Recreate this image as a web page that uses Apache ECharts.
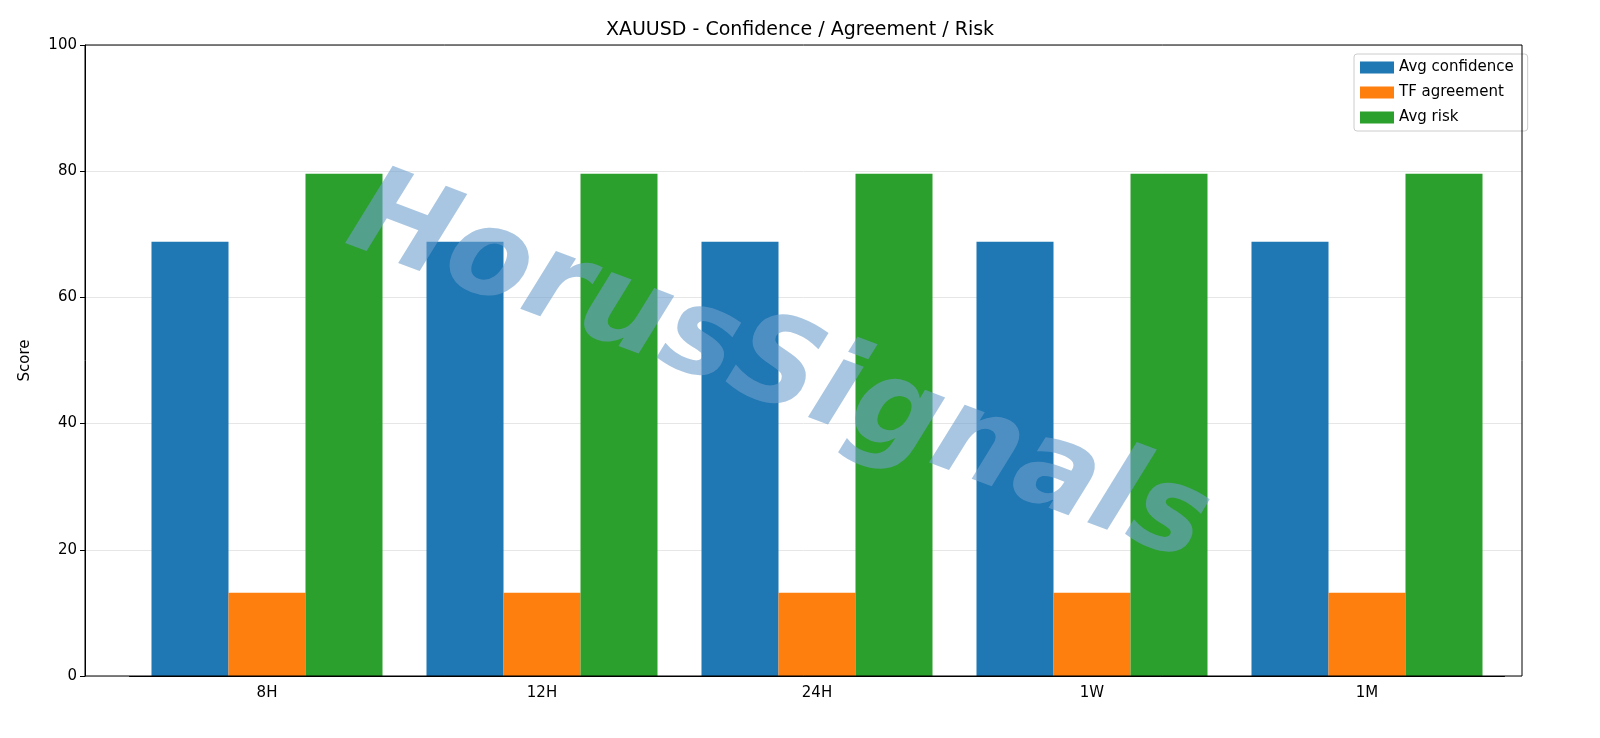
<!DOCTYPE html>
<html><head><meta charset="utf-8">
<script src="https://cdn.jsdelivr.net/npm/echarts@6/dist/echarts.min.js"></script>
<style>html,body{margin:0;padding:0;background:#fff}#c{width:1600px;height:738px}</style>
</head><body><div id="c"></div>
<script>
const categories = ['8H','12H','24H','1W','1M'];
const avgConfidence = [68.8,68.8,68.8,68.8,68.8];
const tfAgreement = [13.2,13.2,13.2,13.2,13.2];
const avgRisk = [79.6,79.6,79.6,79.6,79.6];
const yTicks = [0,20,40,60,80,100];
const chart = echarts.init(document.getElementById('c'));
const font = 'DejaVu Sans';
chart.setOption({
  animation:false,
  textStyle:{fontFamily:font},
  title:{text:'XAUUSD - Confidence / Agreement / Risk',left:'center',top:16,textStyle:{fontFamily:font,fontWeight:'normal',fontSize:19,color:'#000'}},
  grid:[{left:85,right:78,top:45,bottom:62},{left:129.5,right:95.5,top:45,bottom:62}],
  legend:{orient:'vertical',left:1354,top:54,itemWidth:34,itemHeight:12,itemGap:10,icon:'rect',
    backgroundColor:'#fff',borderColor:'#ccc',borderWidth:1,borderRadius:3,padding:[6,14,6,6],
    textStyle:{fontSize:15,color:'#000',fontFamily:font},
    data:['Avg confidence','TF agreement','Avg risk']},
  xAxis:[{type:'value',gridIndex:0,show:false,min:0,max:1},
    {type:'category',gridIndex:1,data:categories,
    axisLine:{lineStyle:{color:'#000'}},axisTick:{alignWithLabel:true,lineStyle:{color:'#000'}},
    axisLabel:{color:'#000',fontSize:15,margin:10}}],
  yAxis:[{type:'value',gridIndex:0,min:0,max:100,interval:20,name:'Score',nameLocation:'middle',nameGap:52,
    nameTextStyle:{fontSize:15,color:'#000'},
    axisLine:{show:true,lineStyle:{color:'#000'}},axisTick:{show:true,lineStyle:{color:'#000'}},
    axisLabel:{color:'#000',fontSize:15,formatter:v=>yTicks.includes(v)?String(v):''},
    splitLine:{lineStyle:{color:'#e6e6e6'}}},
    {type:'value',gridIndex:1,min:0,max:100,show:false}],
  graphic:[
    {type:'rect',shape:{x:85,y:45,width:1437,height:631},style:{fill:'none',stroke:'#000',lineWidth:1},z:50,silent:true},
    {type:'text',x:778,y:372,rotation:-0.36,z:100,silent:true,
     style:{text:'HorusSignals',fontSize:122,fontStyle:'italic',fontWeight:'bold',fontFamily:font,align:'center',verticalAlign:'middle',
       fill:'rgba(110,160,205,0.6)',shadowColor:'rgba(150,150,150,0.5)',shadowOffsetX:6,shadowOffsetY:7,shadowBlur:1}}
  ],
  series:[
    {name:'Avg confidence',type:'bar',xAxisIndex:1,yAxisIndex:1,data:avgConfidence,itemStyle:{color:'#1f77b4'},barGap:'0%',barCategoryGap:'16%'},
    {name:'TF agreement',type:'bar',xAxisIndex:1,yAxisIndex:1,data:tfAgreement,itemStyle:{color:'#ff7f0e'}},
    {name:'Avg risk',type:'bar',xAxisIndex:1,yAxisIndex:1,data:avgRisk,itemStyle:{color:'#2ca02c'}}
  ]
});
</script></body></html>
